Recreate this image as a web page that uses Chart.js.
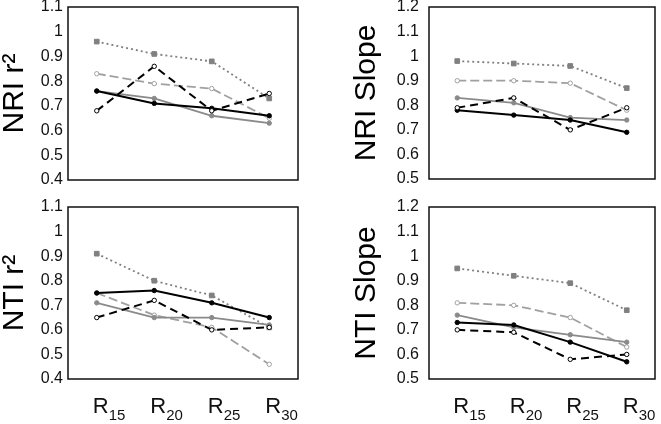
<!DOCTYPE html>
<html>
<head>
<meta charset="utf-8">
<script src="https://cdn.jsdelivr.net/npm/chart.js@4/dist/chart.umd.min.js"></script>
<style>
  body { margin: 0; background: #fff; }
  #wrap { position: relative; width: 661px; height: 424px; overflow: hidden; }
  canvas { position: absolute; }
</style>
</head>
<body>
<div id="wrap">
  <canvas id="nriR2" width="330" height="195" style="left:0;top:0"></canvas>
  <canvas id="nriSlope" width="331" height="195" style="left:330px;top:0"></canvas>
  <canvas id="ntiR2" width="330" height="229" style="left:0;top:195px"></canvas>
  <canvas id="ntiSlope" width="331" height="229" style="left:330px;top:195px"></canvas>
</div>
<script>
// categories
const categories = ["R15", "R20", "R25", "R30"];

// tick labels
const r2Ticks = [0.4, 0.5, 0.6, 0.7, 0.8, 0.9, 1, 1.1];
const slopeTicks = [0.5, 0.6, 0.7, 0.8, 0.9, 1, 1.1, 1.2];

// NRI r2
const nriR2Square = [0.96, 0.91, 0.88, 0.73];
const nriR2GrayDash = [0.83, 0.79, 0.77, 0.65];
const nriR2Gray = [0.76, 0.73, 0.66, 0.63];
const nriR2Black = [0.76, 0.71, 0.69, 0.66];
const nriR2BlackDash = [0.68, 0.86, 0.68, 0.75];

// NRI Slope
const nriSlopeSquare = [0.98, 0.97, 0.96, 0.87];
const nriSlopeGrayDash = [0.90, 0.90, 0.89, 0.78];
const nriSlopeGray = [0.83, 0.81, 0.75, 0.74];
const nriSlopeBlack = [0.78, 0.76, 0.74, 0.69];
const nriSlopeBlackDash = [0.79, 0.83, 0.70, 0.79];

// NTI r2
const ntiR2Square = [0.91, 0.80, 0.74, 0.61];
const ntiR2GrayDash = [0.75, 0.66, 0.61, 0.46];
const ntiR2Gray = [0.71, 0.65, 0.65, 0.62];
const ntiR2Black = [0.75, 0.76, 0.71, 0.65];
const ntiR2BlackDash = [0.65, 0.72, 0.60, 0.61];

// NTI Slope
const ntiSlopeSquare = [0.95, 0.92, 0.89, 0.78];
const ntiSlopeGrayDash = [0.81, 0.80, 0.75, 0.63];
const ntiSlopeGray = [0.76, 0.71, 0.68, 0.65];
const ntiSlopeBlack = [0.73, 0.72, 0.65, 0.57];
const ntiSlopeBlackDash = [0.70, 0.69, 0.58, 0.60];

const FONT = "'Liberation Sans', Arial, sans-serif";

// box round the plot area + R labels with subscripts
const framePlugin = {
  id: "frame",
  afterDraw(chart, args, opts) {
    const { ctx, chartArea: a } = chart;
    ctx.save();
    ctx.strokeStyle = "#111";
    ctx.lineWidth = 1.5;
    ctx.strokeRect(a.left, a.top, a.right - a.left, a.bottom - a.top);
    if (opts.xLabels) {
      const xs = chart.scales.x;
      ctx.fillStyle = "#111";
      ctx.textBaseline = "alphabetic";
      ctx.textAlign = "left";
      categories.forEach((c, i) => {
        const x = xs.getPixelForValue(i) - 4;
        ctx.font = "22px " + FONT;
        ctx.fillText(c[0], x, a.bottom + 34);
        const w = ctx.measureText(c[0]).width;
        ctx.font = "15px " + FONT;
        ctx.fillText(c.slice(1), x + w, a.bottom + 41);
      });
    }
    ctx.restore();
  },
};

function makeSets(sq, grayDash, gray, black, blackDash) {
  return [
    { data: blackDash, borderColor: "#000", borderWidth: 2, borderDash: [8, 5],
      pointRadius: 2.2, pointBackgroundColor: "#fff", pointBorderColor: "#000", pointBorderWidth: 1 },
    { data: black, borderColor: "#000", borderWidth: 2,
      pointRadius: 2.2, pointBackgroundColor: "#000", pointBorderColor: "#000", pointBorderWidth: 1 },
    { data: gray, borderColor: "#8a8a8a", borderWidth: 1.8,
      pointRadius: 2.2, pointBackgroundColor: "#8a8a8a", pointBorderColor: "#8a8a8a", pointBorderWidth: 1 },
    { data: grayDash, borderColor: "#a0a0a0", borderWidth: 1.8, borderDash: [9, 4],
      pointRadius: 2.2, pointBackgroundColor: "#fff", pointBorderColor: "#a0a0a0", pointBorderWidth: 1 },
    { data: sq, borderColor: "#808080", borderWidth: 1.8, borderDash: [2, 3],
      pointStyle: "rect", pointRadius: 3.3, pointBackgroundColor: "#808080", pointBorderColor: "#808080", pointBorderWidth: 1 },
  ];
}

function makeChart(id, title, ticks, sets, opt) {
  new Chart(document.getElementById(id), {
    type: "line",
    data: { labels: categories, datasets: sets },
    options: {
      responsive: false,
      animation: false,
      layout: { padding: { left: opt.padLeft, right: opt.padRight, top: opt.padTop, bottom: opt.padBottom } },
      plugins: { legend: { display: false }, tooltip: { enabled: false }, frame: { xLabels: opt.xLabels } },
      elements: { line: { tension: 0, fill: false } },
      scales: {
        x: { display: false, offset: true },
        y: {
          min: ticks[0],
          max: ticks[ticks.length - 1],
          afterBuildTicks: (s) => { s.ticks = ticks.map((v) => ({ value: v })); },
          afterFit: (s) => {
            s.width = opt.axisWidth;
            s.paddingTop = 0;
            s.paddingBottom = 0;
          },
          grid: { display: false, drawTicks: false },
          border: { display: false },
          ticks: {
            color: "#111",
            padding: opt.tickPad,
            font: { family: FONT, size: 16 },
            callback: (v) => String(+v.toFixed(1)),
          },
          title: {
            display: true,
            text: title,
            color: "#000",
            padding: 0,
            font: { family: FONT, size: 30, lineHeight: 1 },
          },
        },
      },
    },
    plugins: [framePlugin],
  });
}

makeChart("nriR2", "NRI r²", r2Ticks,
  makeSets(nriR2Square, nriR2GrayDash, nriR2Gray, nriR2Black, nriR2BlackDash),
  { padLeft: 0, axisWidth: 68, padRight: 32, padTop: 7, padBottom: 15, tickPad: 5, xLabels: false });

makeChart("nriSlope", "NRI Slope", slopeTicks,
  makeSets(nriSlopeSquare, nriSlopeGrayDash, nriSlopeGray, nriSlopeBlack, nriSlopeBlackDash),
  { padLeft: 22, axisWidth: 77, padRight: 6, padTop: 7, padBottom: 16, tickPad: 10, xLabels: false });

makeChart("ntiR2", "NTI r²", r2Ticks,
  makeSets(ntiR2Square, ntiR2GrayDash, ntiR2Gray, ntiR2Black, ntiR2BlackDash),
  { padLeft: 0, axisWidth: 68, padRight: 32, padTop: 12, padBottom: 45, tickPad: 5, xLabels: true });

makeChart("ntiSlope", "NTI Slope", slopeTicks,
  makeSets(ntiSlopeSquare, ntiSlopeGrayDash, ntiSlopeGray, ntiSlopeBlack, ntiSlopeBlackDash),
  { padLeft: 22, axisWidth: 77, padRight: 6, padTop: 12, padBottom: 45, tickPad: 10, xLabels: true });
</script>
</body>
</html>
